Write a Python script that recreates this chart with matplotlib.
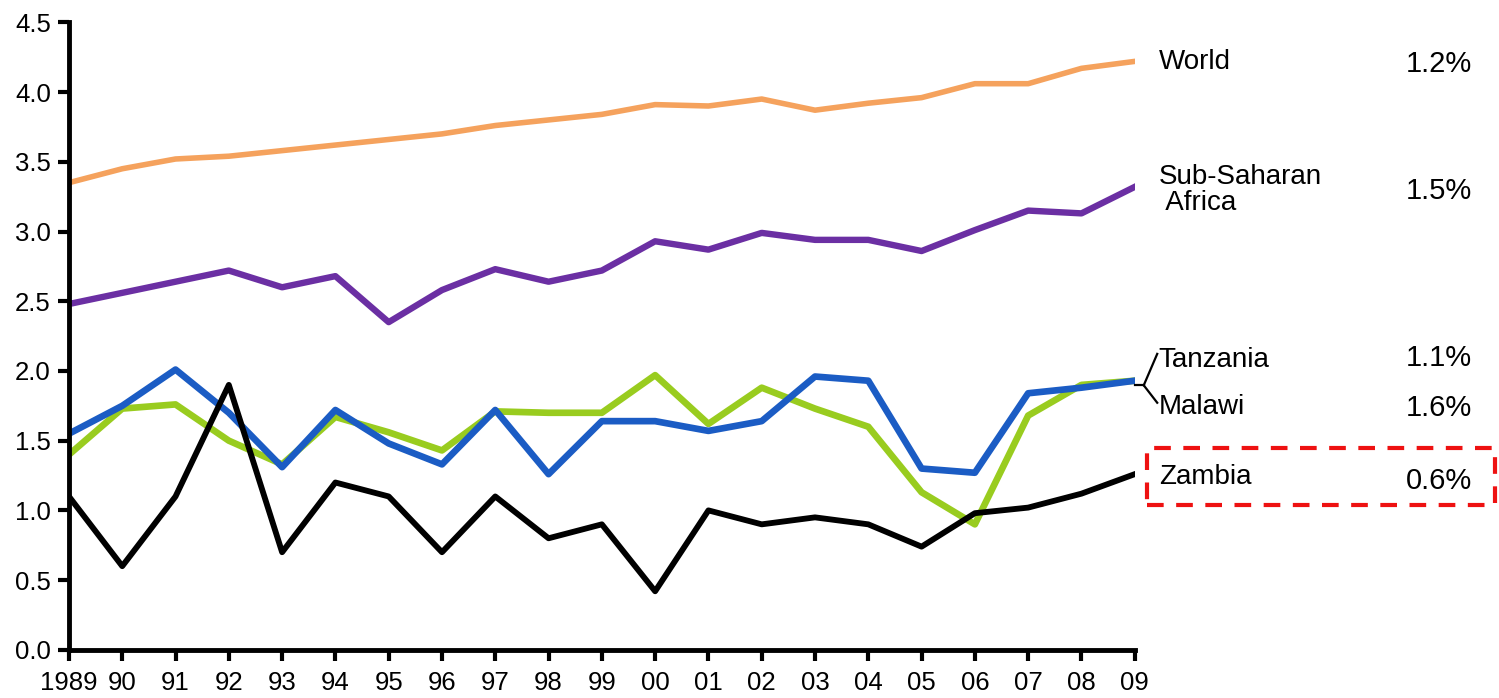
import matplotlib.pyplot as plt
from matplotlib.patches import Rectangle

plt.rcParams['font.family'] = ['Liberation Sans', 'DejaVu Sans']

years = list(range(1989, 2010))
year_labels = ['1989', '90', '91', '92', '93', '94', '95', '96', '97', '98', '99',
               '00', '01', '02', '03', '04', '05', '06', '07', '08', '09']

world = [3.35, 3.45, 3.52, 3.54, 3.58, 3.62, 3.66, 3.70, 3.76, 3.80, 3.84,
         3.91, 3.90, 3.95, 3.87, 3.92, 3.96, 4.06, 4.06, 4.17, 4.22]
ssa = [2.48, 2.56, 2.64, 2.72, 2.60, 2.68, 2.35, 2.58, 2.73, 2.64, 2.72,
       2.93, 2.87, 2.99, 2.94, 2.94, 2.86, 3.01, 3.15, 3.13, 3.32]
tanzania = [1.55, 1.75, 2.01, 1.70, 1.31, 1.72, 1.48, 1.33, 1.72, 1.26, 1.64,
            1.64, 1.57, 1.64, 1.96, 1.93, 1.30, 1.27, 1.84, 1.88, 1.93]
malawi = [1.40, 1.73, 1.76, 1.50, 1.33, 1.67, 1.56, 1.43, 1.71, 1.70, 1.70,
          1.97, 1.62, 1.88, 1.73, 1.60, 1.13, 0.90, 1.68, 1.90, 1.93]
zambia = [1.10, 0.60, 1.10, 1.90, 0.70, 1.20, 1.10, 0.70, 1.10, 0.80, 0.90,
          0.42, 1.00, 0.90, 0.95, 0.90, 0.74, 0.98, 1.02, 1.12, 1.26]

growth = {'World': '1.2%', 'Sub-Saharan\n Africa': '1.5%', 'Tanzania': '1.1%',
          'Malawi': '1.6%', 'Zambia': '0.6%'}

fig = plt.figure(figsize=(14.99, 6.98), dpi=100)
ax = fig.add_axes([0.046, 0.069, 0.711, 0.899])

ax.plot(years, world, color='#F5A25D', lw=4)
ax.plot(years, ssa, color='#6B2FA3', lw=4.6)
ax.plot(years, malawi, color='#99CC1F', lw=4.8)
ax.plot(years, tanzania, color='#1B5CC4', lw=4.8)
ax.plot(years, zambia, color='black', lw=4.2)

ax.set_xlim(1989, 2009)
ax.set_ylim(0, 4.5)
ax.set_xticks(years)
ax.set_xticklabels(year_labels)
ax.set_yticks([i * 0.5 for i in range(10)])
ax.set_yticklabels(['%.1f' % (i * 0.5) for i in range(10)])
ax.tick_params(axis='both', direction='out', length=8, width=3, labelsize=18.5,
               colors='black')
ax.tick_params(axis='x', pad=7)
ax.tick_params(axis='y', pad=5)
for side in ['top', 'right']:
    ax.spines[side].set_visible(False)
for side in ['left', 'bottom']:
    ax.spines[side].set_linewidth(3.5)

# labels on the right
tx = 0.773
px = 0.982
fs = 20
fig.text(tx, 0.911, 'World', fontsize=fs, va='center')
fig.text(px, 0.909, growth['World'], fontsize=fs + 1, va='center', ha='right')
fig.text(tx, 0.728, 'Sub-Saharan\n Africa', fontsize=fs, va='center', linespacing=1.0)
fig.text(px, 0.727, growth['Sub-Saharan\n Africa'], fontsize=fs + 1, va='center', ha='right')
fig.text(tx, 0.484, 'Tanzania', fontsize=fs, va='center')
fig.text(px, 0.487, growth['Tanzania'], fontsize=fs + 1, va='center', ha='right')
fig.text(tx, 0.417, 'Malawi', fontsize=fs, va='center')
fig.text(px, 0.415, growth['Malawi'], fontsize=fs + 1, va='center', ha='right')
fig.text(tx, 0.317, 'Zambia', fontsize=fs, va='center')
fig.text(px, 0.311, growth['Zambia'], fontsize=fs + 1, va='center', ha='right')

# bracket joining Tanzania and Malawi
fig.add_artist(plt.Line2D([0.763, 0.772], [0.448, 0.493], color='black', lw=1.6))
fig.add_artist(plt.Line2D([0.763, 0.772], [0.448, 0.423], color='black', lw=1.6))
fig.add_artist(plt.Line2D([0.757, 0.763], [0.448, 0.448], color='black', lw=1.6))

# red dashed box around Zambia
fig.add_artist(Rectangle((0.765, 0.276), 0.232, 0.082, transform=fig.transFigure,
                         fill=False, edgecolor='#EE1111', lw=3, ls=(0, (4, 3))))

fig.savefig('out.png', dpi=100)
